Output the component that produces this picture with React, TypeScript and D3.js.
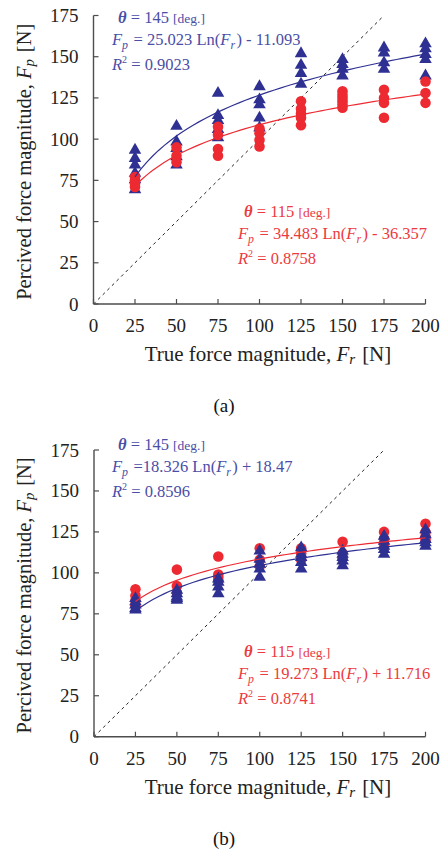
import React from 'react'
import * as d3 from 'd3'

// force levels shared by both panels
const forceLevels = [25, 50, 75, 100, 125, 150, 175, 200]
const axisTicks = [0, 25, 50, 75, 100, 125, 150, 175, 200]
const yAxisTicks = [0, 25, 50, 75, 100, 125, 150, 175]

// panel (a)
const a145 = [
  [94, 89, 85, 80, 76, 70],
  [108.5, 99, 95, 90, 85],
  [128.5, 115, 112, 106.5, 101.5],
  [132.5, 124.5, 121.5, 113.5, 107.5],
  [152.5, 145.5, 140.5, 134],
  [149, 146, 143, 139],
  [156, 153, 147, 143],
  [158.5, 155.5, 152, 149, 139],
]
const a115 = [
  [77, 75, 73, 71],
  [95, 90, 86],
  [107.5, 102.5, 94, 90],
  [106.5, 103.5, 99.5, 95.5],
  [123, 118.5, 115.5, 113, 108.5],
  [129, 127, 125, 123, 121, 119],
  [130, 125, 122, 113],
  [135, 128, 122],
]

// panel (b)
const b145 = [
  [85, 83, 81, 79, 78],
  [90, 88, 86, 85, 84],
  [97, 95, 92, 88],
  [114, 109, 106, 103, 98],
  [116, 112, 110, 107, 103],
  [114, 112, 110, 108, 105],
  [123, 120, 117, 115, 112],
  [127, 124, 121, 119, 117],
]
const b115 = [
  [90, 86, 83, 80],
  [102, 92, 88],
  [110, 99, 97, 95],
  [115, 108, 104],
  [115, 112, 108],
  [119, 112, 109],
  [125, 121, 118, 116],
  [130, 125, 122, 120],
]

const BLUE = '#2e3192'
const BLUE_TXT = '#4a4ea6'
const RED = '#ed2a32'
const RED_TXT = '#ec3a40'
const FONT = '"Liberation Serif", "Times New Roman", serif'

type Pt = { x: number; y: number }
const flat = (groups: number[][]): Pt[] =>
  groups.flatMap((g, i) => g.map(v => ({ x: forceLevels[i], y: v })))

// least squares fit of y = a ln(x) + b
function logFit(pts: Pt[]) {
  const lx = pts.map(p => Math.log(p.x))
  const mx = d3.mean(lx)!
  const my = d3.mean(pts, p => p.y)!
  let sxy = 0, sxx = 0
  pts.forEach((p, i) => { sxy += (lx[i] - mx) * (p.y - my); sxx += (lx[i] - mx) ** 2 })
  const a = sxy / sxx
  const b = my - a * mx
  return (x: number) => a * Math.log(x) + b
}

const Sub = ({ t, dy = 4 }: { t: string; dy?: number }) => (
  <>
    <tspan fontStyle="italic" fontSize="0.72em" dy={dy}>{t}</tspan>
    <tspan dy={-dy}>{'\u200a'}</tspan>
  </>
)

const Note = ({ x, y, color, theta, eq, r2 }: any) => (
  <g fill={color} fontFamily={FONT} fontSize={16.5}>
    <text x={x + 6} y={y}>
      <tspan fontStyle="italic" fontWeight="bold">θ</tspan>
      <tspan> = {theta} </tspan>
      <tspan fontSize={13.5}>[deg.]</tspan>
    </text>
    <text x={x} y={y + 22}>
      <tspan fontStyle="italic">F</tspan>
      <Sub t="p" />
      {eq[0]}
      <tspan fontStyle="italic">F</tspan>
      <Sub t="r" />
      {eq[1]}
    </text>
    <text x={x} y={y + 47}>
      <tspan fontStyle="italic">R</tspan>
      <tspan fontSize={10} dy={-7}>2</tspan>
      <tspan dy={7}> = {r2}</tspan>
    </text>
  </g>
)

const Panel = ({ top, y0, x0, d145, d115, blueOnTop, notes, label }: any) => {
  const x = d3.scaleLinear([0, 200], [x0, 425.5])
  const y = d3.scaleLinear([0, 175], [y0, top])
  const p145 = flat(d145)
  const p115 = flat(d115)
  const f145 = logFit(p145)
  const f115 = logFit(p115)
  const xs = d3.range(25, 200.01, 3.5)
  const line = (f: (v: number) => number) =>
    d3.line<number>().x(v => x(v)).y(v => y(f(v)))(xs)!
  const tri = d3.symbol(d3.symbolTriangle, 68)()!
  const circles = p115.map((p, i) => (
    <circle key={'c' + i} cx={x(p.x)} cy={y(p.y)} r={5.3} fill={RED} />
  ))
  const tris = p145.map((p, i) => (
    <path key={'t' + i} d={tri} transform={`translate(${x(p.x)},${y(p.y) + 1})`} fill={BLUE} />
  ))
  const axisCol = '#4d4d4d'
  return (
    <g>
      <line x1={x(0)} y1={y(0)} x2={x(175)} y2={y(175)} stroke="#222" strokeWidth={1} strokeDasharray="3,3.5" />
      {blueOnTop ? circles : tris}
      {blueOnTop ? tris : circles}
      <path d={line(f145)} fill="none" stroke={BLUE} strokeWidth={1.2} />
      <path d={line(f115)} fill="none" stroke={RED} strokeWidth={1.2} />
      {/* axes */}
      <line x1={x(0)} y1={y(0)} x2={x(0)} y2={y(175)} stroke={axisCol} strokeWidth={1.4} />
      <line x1={x(0)} y1={y(0)} x2={x(200)} y2={y(0)} stroke={axisCol} strokeWidth={1.4} />
      {yAxisTicks.map(t => (
        <g key={'y' + t}>
          <line x1={x(0)} x2={x(0) + 5} y1={y(t)} y2={y(t)} stroke={axisCol} strokeWidth={1.2} />
          <text x={x(0) - 15} y={y(t) + 6.5} textAnchor="end" fontFamily={FONT} fontSize={19} fill="#222">{t}</text>
        </g>
      ))}
      {axisTicks.map(t => (
        <g key={'x' + t}>
          <line x1={x(t)} x2={x(t)} y1={y(0)} y2={y(0) - 5} stroke={axisCol} strokeWidth={1.2} />
          <text x={x(t)} y={y(0) + 28} textAnchor="middle" fontFamily={FONT} fontSize={19} fill="#222">{t}</text>
        </g>
      ))}
      <text x={268} y={y(0) + 57} textAnchor="middle" fontFamily={FONT} fontSize={21} fill="#222">
        True force magnitude, <tspan fontStyle="italic">F</tspan>
        <Sub t="r" dy={3} /> [N]
      </text>
      <text transform={`translate(31,${(y(0) + y(175)) / 2 + 2}) rotate(-90)`} textAnchor="middle" fontFamily={FONT} fontSize={20.5} fill="#222">
        Percived force magnitude, <tspan fontStyle="italic">F</tspan>
        <Sub t="p" dy={3} /> [N]
      </text>
      <Note {...notes[0]} color={BLUE_TXT} />
      <Note {...notes[1]} color={RED_TXT} />
      <text x={224} y={y(0) + 108} textAnchor="middle" fontFamily={FONT} fontSize={19} fill="#111">{label}</text>
    </g>
  )
}

export default function App() {
  return (
    <svg width={445} height={855} style={{ position: 'absolute', left: 0, top: 0, background: '#fff' }}>
      <Panel
        top={15.5}
        y0={304}
        x0={93.5}
        d145={a145}
        d115={a115}
        blueOnTop={false}
        label="(a)"
        notes={[
          { x: 112, y: 23, theta: 145, eq: [' = 25.023 Ln(', ') - 11.093'], r2: '0.9023' },
          { x: 238, y: 217, theta: 115, eq: [' = 34.483 Ln(', ') - 36.357'], r2: '0.8758' },
        ]}
      />
      <Panel
        top={450}
        y0={736.7}
        x0={94}
        d145={b145}
        d115={b115}
        blueOnTop={true}
        label="(b)"
        notes={[
          { x: 112, y: 450, theta: 145, eq: [' =18.326 Ln(', ') + 18.47'], r2: '0.8596' },
          { x: 238, y: 657, theta: 115, eq: [' = 19.273 Ln(', ') + 11.716'], r2: '0.8741' },
        ]}
      />
    </svg>
  )
}
